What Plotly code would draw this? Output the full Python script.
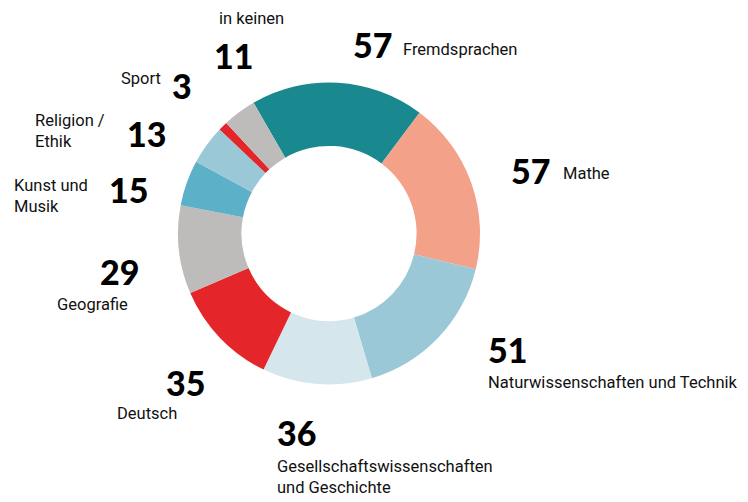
import plotly.graph_objects as go

W, H = 748, 502
OFF = 8  # the page body has a default 8px margin

faecher = ["Fremdsprachen", "Mathe", "Naturwissenschaften und Technik",
           "Gesellschaftswissenschaften und Geschichte", "Deutsch", "Geografie",
           "Kunst und Musik", "Religion / Ethik", "Sport", "in keinen"]
werte = [57, 57, 51, 36, 35, 29, 15, 13, 3, 11]
farben = ["#1a898f", "#f3a189", "#9bc8d6", "#d5e6ed", "#e4262b", "#bdbcba",
          "#5cb0c7", "#9bc8d6", "#e4262b", "#bdbcba"]

# label text as shown in the chart (line breaks included)
label_text = ["Fremdsprachen", "Mathe", "Naturwissenschaften und Technik",
              "Gesellschaftswissenschaften<br>und Geschichte", "Deutsch", "Geografie",
              "Kunst und<br>Musik", "Religion /<br>Ethik", "Sport", "in keinen"]

cx, cy, r = 329 - OFF, 233.5 - OFF, 151

fig = go.Figure(go.Pie(
    labels=faecher, values=werte, sort=False, direction="clockwise",
    rotation=-30, hole=0.58,
    marker=dict(colors=farben, line=dict(width=0)),
    textinfo="none", hoverinfo="label+value", showlegend=False,
    domain=dict(x=[(cx - r) / W, (cx + r) / W], y=[(H - cy - r) / H, (H - cy + r) / H]),
))

NUM = dict(family="Lato", size=34, color="#000", weight=900)
TXT = dict(family="Roboto", size=16.5, color="#111")


def ann(text, x, y, font, xa="center", ya="middle", align="center"):
    fig.add_annotation(text=text, x=(x - OFF) / W, y=1 - (y - OFF) / H,
                       xref="paper", yref="paper", xanchor=xa, yanchor=ya,
                       showarrow=False, font=font, align=align)


# (number position, label position, label anchor)
layout_pos = [
    ((372, 44), (401, 49, "left", "middle", "left")),
    ((530, 171), (561, 174, "left", "middle", "left")),
    ((507, 349), (486, 382, "left", "middle", "left")),
    ((296, 432), (275, 477, "left", "middle", "left")),
    ((185, 382), (147, 413, "center", "middle", "center")),
    ((120, 271), (92, 304, "center", "middle", "center")),
    ((128, 189), (12, 196, "left", "middle", "left")),
    ((146, 133), (33, 131, "left", "middle", "left")),
    ((182, 86), (163, 79, "right", "middle", "right")),
    ((233, 55), (251, 19, "center", "middle", "center")),
]

for v, lab, (npos, lpos) in zip(werte, label_text, layout_pos):
    ann(str(v), npos[0], npos[1], NUM)
    ann(lab, lpos[0], lpos[1], TXT, xa=lpos[2], ya=lpos[3], align=lpos[4])

fig.update_layout(width=W, height=H, margin=dict(l=0, r=0, t=0, b=0),
                  paper_bgcolor="white", plot_bgcolor="white")

fig.write_html("out.html")
